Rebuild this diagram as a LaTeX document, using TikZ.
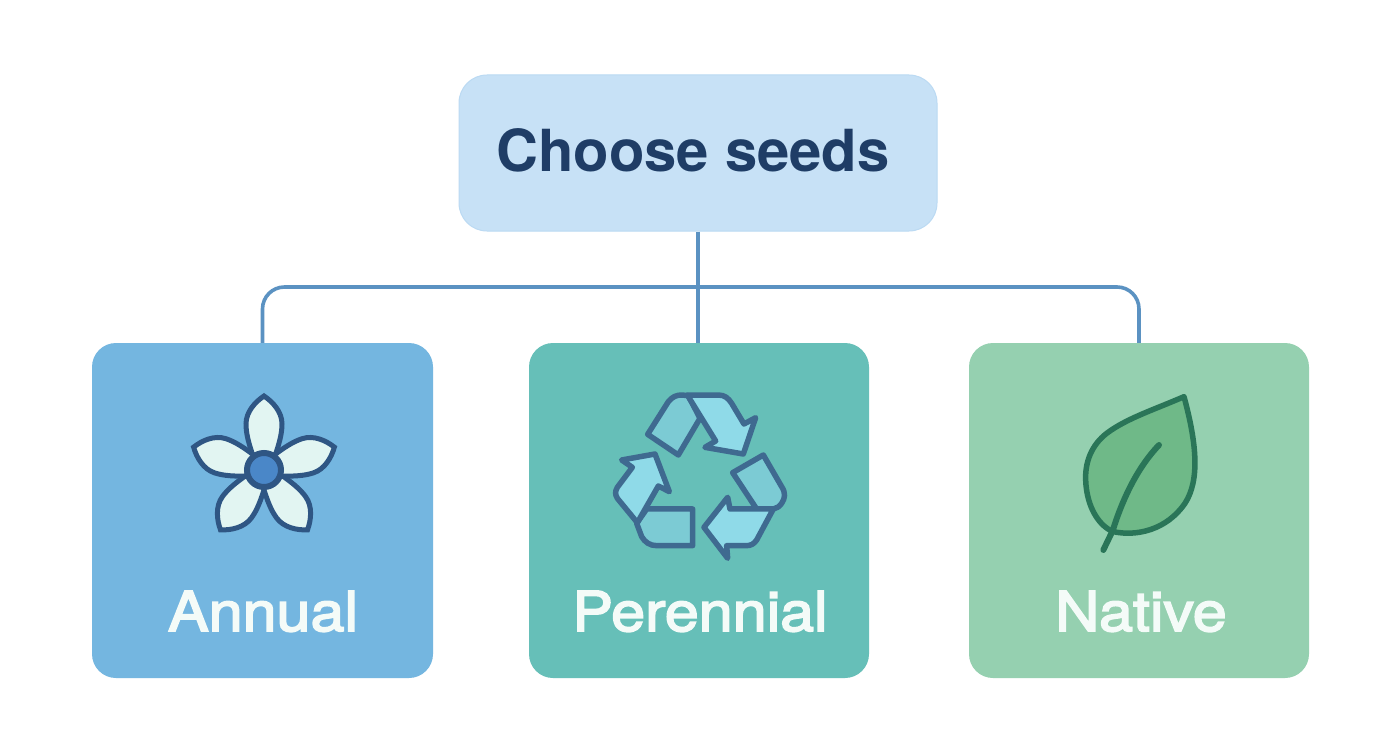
\documentclass[tikz,border=0pt]{standalone}
\usepackage{fontspec}
\setmainfont{TeX Gyre Heros}
\newfontfamily\seedfont[FakeBold=3,FakeStretch=1.11]{TeX Gyre Heros}
\definecolor{rootfill}{HTML}{C7E1F6}
\definecolor{rootedge}{HTML}{BBDAF3}
\definecolor{rootink}{HTML}{1F3D66}
\definecolor{annualfill}{HTML}{74B6E0}
\definecolor{perennialfill}{HTML}{66BFB8}
\definecolor{nativefill}{HTML}{95D0B0}
\definecolor{linkblue}{HTML}{5B92C2}
\definecolor{labelink}{HTML}{F4FBF8}
\definecolor{iconink}{HTML}{2F5684}
\definecolor{petalfill}{HTML}{E2F5F2}
\definecolor{corefill}{HTML}{4A87C8}
\definecolor{recink}{HTML}{3F6A90}
\definecolor{recfront}{HTML}{8FDAE8}
\definecolor{recback}{HTML}{7CCBD4}
\definecolor{leafink}{HTML}{2A7558}
\definecolor{leaffill}{HTML}{6FB988}
\tikzset{
  seedbox/.style={rounded corners=24pt,minimum width=340pt,minimum height=335pt,inner sep=0pt},
  seedlabel/.style={text=labelink,font=\fontsize{55}{55}\seedfont,inner sep=0pt,anchor=base},
  link/.style={draw=linkblue,line width=3.6pt},
  petal/.style={draw=iconink,fill=petalfill,line width=5pt,line join=miter},
  recfrontpart/.style={draw=recink,fill=recfront,line width=5.5pt,line join=round},
  recbackpart/.style={draw=recink,fill=recback,line width=5.5pt,line join=round},
}
\begin{document}
\begin{tikzpicture}[x=1pt,y=-1pt]
\useasboundingbox (0,0) rectangle (1392,752);
\fill[white] (0,0) rectangle (1392,752);
% connectors go under the boxes
\node[rounded corners=28pt,fill=rootfill,draw=rootedge,line width=1pt,minimum width=478pt,minimum height=156pt,inner sep=0pt] (root) at (698,153) {};
\node[seedbox,fill=annualfill,minimum width=341pt] (annual) at (262.5,510.5) {};
\node[seedbox,fill=perennialfill] (perennial) at (699,510.5) {};
\node[seedbox,fill=nativefill] (native) at (1139,510.5) {};
\coordinate (hub) at (698,287);
\draw[link,rounded corners=22pt] (annual.north) |- (hub) -| (native.north);
\draw[link] (root.south) -- (perennial.north-|root.south);
% texts
\node[text=rootink,font=\fontsize{58}{58}\selectfont\bfseries,inner sep=0pt,anchor=base] (roottext) at (693,171) {Choose seeds};
\node[seedlabel] (annuallabel) at (263,631) {Annual};
\node[seedlabel] (perenniallabel) at (700,631) {Perennial};
\node[seedlabel] (nativelabel) at (1141,631) {Native};
% flower
\foreach \a in {0,72,144,216,288}{
  \begin{scope}[shift={(264,470)},rotate=\a]
    \draw[petal] (-11,-14) .. controls (-15,-26) and (-18,-36) .. (-18,-46) .. controls (-18,-58) and (-9,-68) .. (0,-74)
      .. controls (9,-68) and (18,-58) .. (18,-46) .. controls (18,-36) and (15,-26) .. (11,-14) -- cycle;
  \end{scope}
}
\draw[draw=iconink,fill=corefill,line width=6pt] (264,470) circle (17);
% recycle
\begin{scope}[shift={(600,380)},x=.3333pt,y=-.3333pt]
  \draw[recbackpart] (143,163) -- (205,65) .. controls (217,50) and (230,45) .. (245,45) -- (265,47) -- (300,115) -- (235,225) -- cycle;
  \draw[recfrontpart] (262,45) -- (355,45) .. controls (375,45) and (385,55) .. (395,70) -- (432,132) -- (467,113) -- (430,222) -- (315,202) -- (347,183) -- cycle;
  \draw[recbackpart] (140,387) -- (278,387) -- (278,497) -- (170,497) .. controls (150,497) and (135,487) .. (125,470) -- (110,430) -- cycle;
  \draw[recfrontpart] (65,240) -- (165,222) -- (208,335) -- (175,318) -- (112,428) -- (52,355) .. controls (45,343) and (45,335) .. (52,322) -- (97,262) -- cycle;
  \draw[recbackpart] (398,278) -- (490,225) -- (545,320) .. controls (558,340) and (555,355) .. (545,370) .. controls (538,380) and (530,385) .. (520,387) -- (470,387) -- cycle;
  \draw[recfrontpart] (312,442) -- (383,352) -- (390,387) -- (520,387) -- (470,480) .. controls (462,492) and (452,497) .. (440,497) -- (380,497) -- (383,535) -- cycle;
\end{scope}
% leaf
\begin{scope}[shift={(1060,380)},x=.3333pt,y=-.3333pt]
  \draw[draw=leafink,fill=leaffill,line width=5.5pt,line join=round] (372,50) .. controls (280,90) and (200,115) .. (140,160)
    .. controls (95,195) and (75,245) .. (77,300) .. controls (80,385) and (120,440) .. (160,455)
    .. controls (230,470) and (320,450) .. (375,370) .. controls (420,300) and (410,190) .. (372,50) -- cycle;
  \draw[draw=leafink,line width=6pt,line cap=round] (130,510) -- (158,452) .. controls (190,350) and (235,260) .. (297,195);
\end{scope}
\end{tikzpicture}
\end{document}
